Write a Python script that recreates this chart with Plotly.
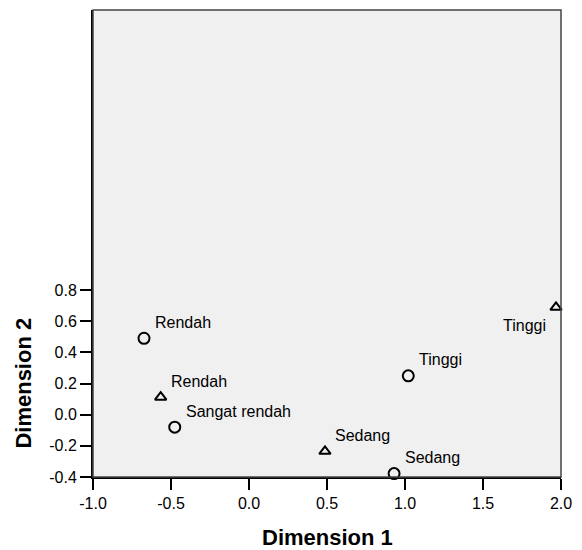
import plotly.graph_objects as go

# Row points (circles)
row_labels = ["Rendah", "Sangat rendah", "Sedang", "Tinggi"]
row_x = [-0.673, -0.476, 0.930, 1.021]
row_y = [0.491, -0.080, -0.378, 0.250]

# Column points (triangles)
col_labels = ["Rendah", "Sedang", "Tinggi"]
col_x = [-0.566, 0.487, 1.968]
col_y = [0.113, -0.235, 0.690]

x_ticks = [-1.0, -0.5, 0.0, 0.5, 1.0, 1.5, 2.0]
y_ticks = [-0.4, -0.2, 0.0, 0.2, 0.4, 0.6, 0.8]

FONT = "Arial, Liberation Sans, Helvetica, sans-serif"

fig = go.Figure()
fig.add_trace(go.Scatter(
    x=row_x, y=row_y, mode="markers",
    marker=dict(symbol="circle-open", size=11, color="black", line=dict(width=2, color="black")),
    cliponaxis=False, showlegend=False, hoverinfo="text", text=row_labels))
fig.add_trace(go.Scatter(
    x=col_x, y=col_y, mode="markers",
    marker=dict(symbol="triangle-up-open", size=10, color="black", line=dict(width=2, color="black")),
    cliponaxis=False, showlegend=False, hoverinfo="text", text=col_labels))

annotations = []
for lab, x, y in zip(row_labels, row_x, row_y):
    annotations.append(dict(x=x, y=y, text=lab, showarrow=False, xanchor="left", yanchor="middle",
                            xshift=9, yshift=16, font=dict(family=FONT, size=16, color="black")))
for lab, x, y in zip(col_labels, col_x, col_y):
    right = x > 1.5
    annotations.append(dict(x=x, y=y, text=lab, showarrow=False,
                            xanchor="right" if right else "left", yanchor="middle",
                            xshift=-8 if right else 8, yshift=-18 if right else 16,
                            font=dict(family=FONT, size=16, color="black")))

# y-axis title centred on the tick range
annotations.append(dict(xref="paper", yref="paper", x=0, y=0.2,
                        text="<b>Dimension 2</b>", showarrow=False, textangle=-90,
                        xanchor="center", yanchor="middle", xshift=-69,
                        font=dict(family=FONT, size=22, color="black")))
# x-axis title
annotations.append(dict(xref="paper", yref="paper", x=0.5, y=0,
                        text="<b>Dimension 1</b>", showarrow=False,
                        xanchor="center", yanchor="middle", yshift=-60,
                        font=dict(family=FONT, size=22, color="black")))

fig.update_layout(
    width=582, height=550,
    margin=dict(l=93, r=21, t=10, b=73),
    paper_bgcolor="white", plot_bgcolor="#f0f0f0",
    font=dict(family=FONT, size=16, color="black"),
    annotations=annotations,
    xaxis=dict(range=[-1.0, 2.0], tickvals=x_ticks, ticktext=[f"{v:.1f}" for v in x_ticks],
               ticks="outside", ticklen=11, tickwidth=2, tickcolor="black",
               showline=True, linecolor="black", linewidth=2, showgrid=False, zeroline=False,
               automargin=False,
               tickfont=dict(family=FONT, size=16, color="black")),
    yaxis=dict(range=[-0.4, 2.6], tickvals=y_ticks, ticktext=[f"{v:.1f}" for v in y_ticks],
               ticks="outside", ticklen=11, tickwidth=2, tickcolor="black",
               showline=True, linecolor="black", linewidth=2, showgrid=False, zeroline=False,
               automargin=False,
               tickfont=dict(family=FONT, size=16, color="black")),
    shapes=[dict(type="rect", xref="paper", yref="paper", x0=0, y0=0, x1=1, y1=1,
                 line=dict(color="#444444", width=1.5), layer="above")],
)

fig.write_html("out.html")
